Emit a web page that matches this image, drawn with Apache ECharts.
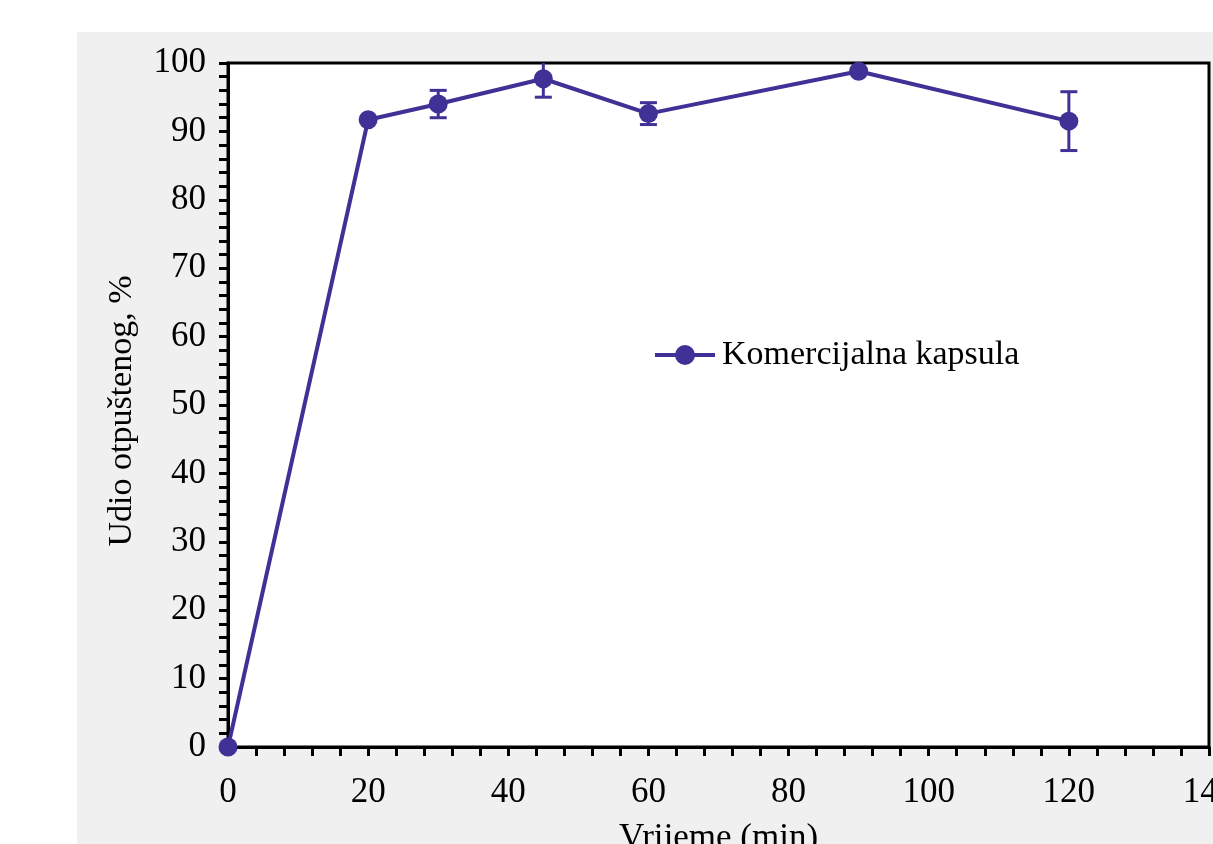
<!DOCTYPE html>
<html>
<head>
<meta charset="utf-8">
<script src="https://cdn.jsdelivr.net/npm/echarts@6/dist/echarts.min.js"></script>
<style>
html,body{margin:0;padding:0;background:#fff;}
#chart{width:1213px;height:844px;}
</style>
</head>
<body>
<div id="chart"></div>
<script>
var times = [0, 20, 30, 45, 60, 90, 120];
var released = [0, 91.7, 94.0, 97.7, 92.6, 98.8, 91.5];
var errors = [0, 0, 2.0, 2.7, 1.6, 0, 4.3];
var seriesName = 'Komercijalna kapsula';
var xTitle = 'Vrijeme (min)';
var yTitle = 'Udio otpuštenog, %';

var FONT = '"Liberation Serif", "Times New Roman", serif';
var COLOR = '#3f3196';

var lineData = times.map(function (t, i) { return [t, released[i]]; });
var errData = [];
times.forEach(function (t, i) {
  if (errors[i] > 0) errData.push([t, released[i] - errors[i], released[i] + errors[i]]);
});

var chart = echarts.init(document.getElementById('chart'));
chart.setOption({
  animation: false,
  graphic: [{
    type: 'rect', z: -10, silent: true,
    shape: { x: 77, y: 32, width: 1200, height: 830 },
    style: { fill: '#eff0ef' }
  }],
  grid: {
    left: 228, top: 63, right: 4, bottom: 97,
    outerBoundsMode: 'none',
    containLabel: false,
    show: true, backgroundColor: '#ffffff', borderColor: '#000', borderWidth: 3
  },
  legend: {
    data: [seriesName],
    left: 648, top: 333,
    itemWidth: 60, itemHeight: 25,
    itemGap: 10,
    lineStyle: { width: 4 },
    textStyle: { fontFamily: FONT, fontSize: 34, color: '#000', padding: [0, 0, 0, 2] }
  },
  xAxis: {
    type: 'value', min: 0, max: 140, interval: 20,
    name: xTitle, nameLocation: 'middle', nameGap: 74,
    nameTextStyle: { fontFamily: FONT, fontSize: 35, color: '#000' },
    axisLine: { onZero: false, lineStyle: { color: '#000', width: 3 } },
    axisTick: { show: true, length: 9, lineStyle: { color: '#000', width: 3 } },
    minorTick: { show: true, splitNumber: 5, length: 9, lineStyle: { color: '#000', width: 3 } },
    splitLine: { show: false },
    axisLabel: { fontFamily: FONT, fontSize: 35, color: '#000', margin: 28 }
  },
  yAxis: {
    type: 'value', min: 0, max: 100, interval: 10,
    name: yTitle, nameLocation: 'middle', nameGap: 89,
    nameTextStyle: { fontFamily: FONT, fontSize: 34, color: '#000', padding: [0, 12, 0, 0] },
    axisLine: { onZero: false, lineStyle: { color: '#000', width: 3 } },
    axisTick: { show: true, length: 9, lineStyle: { color: '#000', width: 3 } },
    minorTick: { show: true, splitNumber: 5, length: 9, lineStyle: { color: '#000', width: 3 } },
    splitLine: { show: false },
    axisLabel: { fontFamily: FONT, fontSize: 35, color: '#000', margin: 22 }
  },
  series: [{
    name: seriesName,
    type: 'line',
    data: lineData,
    symbol: 'circle', symbolSize: 19,
    color: COLOR,
    lineStyle: { color: COLOR, width: 4 },
    itemStyle: { color: COLOR },
    clip: false,
    z: 5
  }, {
    name: 'err',
    type: 'custom',
    data: errData,
    clip: true,
    z: 4,
    renderItem: function (params, api) {
      var x = api.value(0);
      var lo = api.coord([x, api.value(1)]);
      var hi = api.coord([x, api.value(2)]);
      var hw = 8.5;
      var st = { stroke: COLOR, lineWidth: 3 };
      return {
        type: 'group',
        children: [
          { type: 'line', shape: { x1: lo[0], y1: lo[1], x2: hi[0], y2: hi[1] }, style: st },
          { type: 'line', shape: { x1: lo[0] - hw, y1: lo[1], x2: lo[0] + hw, y2: lo[1] }, style: st },
          { type: 'line', shape: { x1: hi[0] - hw, y1: hi[1], x2: hi[0] + hw, y2: hi[1] }, style: st }
        ]
      };
    }
  }]
});
</script>
</body>
</html>
